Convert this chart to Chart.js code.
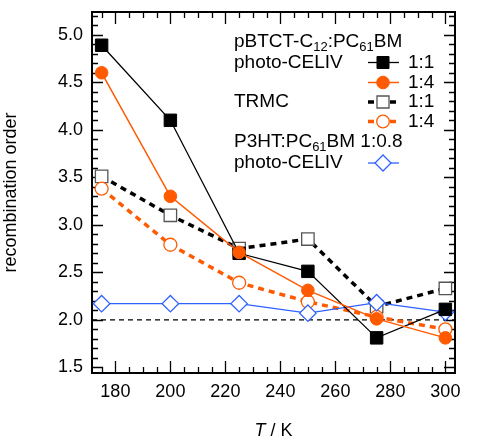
<!DOCTYPE html>
<html>
<head>
<meta charset="utf-8">
<script src="https://cdn.jsdelivr.net/npm/chart.js@4.4.0/dist/chart.umd.min.js"></script>
<style>
  body { margin: 0; background: #fff; }
  #wrap { width: 498px; height: 442px; }
</style>
</head>
<body>
<div id="wrap"><canvas id="chart" width="498" height="442"></canvas></div>
<script>
// temperatures (K) and recombination orders
const temps = [175, 200, 225, 250, 275, 300];
const celiv11 = [4.89, 4.10, 2.70, 2.51, 1.81, 2.11];
const celiv14 = [4.60, 3.30, 2.71, 2.31, 2.01, 1.81];
const trmc11 = [3.51, 3.10, 2.75, 2.85, 2.14, 2.33];
const trmc14 = [3.38, 2.79, 2.39, 2.19, 2.03, 1.90];
const p3ht = [2.17, 2.17, 2.17, 2.07, 2.18, 2.08];
const refLevel = 2.0;
const xTicks = [180, 200, 220, 240, 260, 280, 300];
const yTicks = [1.5, 2.0, 2.5, 3.0, 3.5, 4.0, 4.5, 5.0];

const X_MIN = 171.5, X_MAX = 303.5, Y_MIN = 1.44, Y_MAX = 5.24;
const ORANGE = '#ff5a00';
const BLUE = '#2f62ff';
const FONT = '"Liberation Sans", Arial, Helvetica, sans-serif';

const toXY = ys => temps.map((t, i) => ({ x: t, y: ys[i] }));

// small marker helper for the hand drawn legend
function marker(ctx, style, x, y, r, fill, stroke, lw) {
  ctx.save();
  ctx.lineWidth = lw;
  ctx.fillStyle = fill;
  ctx.strokeStyle = stroke;
  ctx.setLineDash([]);
  ctx.beginPath();
  if (style === 'rect') {
    const s = r * Math.SQRT1_2;
    ctx.rect(x - s, y - s, 2 * s, 2 * s);
  } else if (style === 'circle') {
    ctx.arc(x, y, r, 0, Math.PI * 2);
  } else {
    ctx.moveTo(x, y - r); ctx.lineTo(x + r, y); ctx.lineTo(x, y + r); ctx.lineTo(x - r, y); ctx.closePath();
  }
  ctx.fill();
  ctx.stroke();
  ctx.restore();
}

const framePlugin = {
  id: 'frame',
  beforeDatasetsDraw(chart) {
    const { ctx, chartArea: a, scales } = chart;
    const xs = scales.x, ys = scales.y;
    ctx.save();
    ctx.strokeStyle = '#000';
    ctx.lineWidth = 1.3;
    ctx.beginPath();
    for (let v = 175; v <= 300; v += 5) {
      const px = Math.round(xs.getPixelForValue(v)) + 0.5;
      const len = v % 20 === 0 ? 12 : 6;
      ctx.moveTo(px, a.bottom); ctx.lineTo(px, a.bottom - len);
      ctx.moveTo(px, a.top); ctx.lineTo(px, a.top + len);
    }
    for (let k = 15; k <= 52; k++) {
      const py = Math.round(ys.getPixelForValue(k / 10)) + 0.5;
      const len = k % 5 === 0 ? 11 : 6;
      ctx.moveTo(a.left, py); ctx.lineTo(a.left + len, py);
      ctx.moveTo(a.right, py); ctx.lineTo(a.right - len, py);
    }
    ctx.stroke();
    ctx.lineWidth = 2;
    ctx.strokeRect(a.left, a.top, a.right - a.left, a.bottom - a.top);
    ctx.restore();
  },
  afterDraw(chart) {
    const { ctx, chartArea: a } = chart;
    ctx.save();
    ctx.fillStyle = '#000';
    ctx.textBaseline = 'alphabetic';

    // axis titles
    ctx.font = 'italic 18px ' + FONT;
    const wT = ctx.measureText('T').width;
    ctx.font = '18px ' + FONT;
    const wRest = ctx.measureText(' / K').width;
    const cx = (a.left + a.right) / 2;
    let x0 = cx - (wT + wRest) / 2;
    ctx.font = 'italic 18px ' + FONT;
    ctx.fillText('T', x0, 436);
    ctx.font = '18px ' + FONT;
    ctx.fillText(' / K', x0 + wT, 436);

    ctx.save();
    ctx.translate(16, (a.top + a.bottom) / 2);
    ctx.rotate(-Math.PI / 2);
    ctx.textAlign = 'center';
    ctx.fillText('recombination order', 0, 0);
    ctx.restore();

    // legend text with subscripts
    const tx = 234;
    const big = '19px ' + FONT, small = '13px ' + FONT;
    const parts = (segs, y) => {
      let x = tx;
      segs.forEach(([s, sub]) => {
        ctx.font = sub ? small : big;
        ctx.fillText(s, x, sub ? y + 4 : y);
        x += ctx.measureText(s).width;
      });
    };
    parts([['pBTCT-C'], ['12', 1], [':PC'], ['61', 1], ['BM']], 47);
    ctx.font = big;
    ctx.fillText('photo-CELIV', tx, 68);
    ctx.fillText('TRMC', tx, 107);
    parts([['P3HT:PC'], ['61', 1], ['BM 1:0.8']], 147);
    ctx.font = big;
    ctx.fillText('photo-CELIV', tx, 168);
    ctx.fillText('1:1', 408, 68);
    ctx.fillText('1:4', 408, 88);
    ctx.fillText('1:1', 408, 107);
    ctx.fillText('1:4', 408, 127);

    // legend samples
    const sample = (y, color, lw, dash, style, r, fill, stroke, mlw) => {
      ctx.save();
      ctx.strokeStyle = color;
      ctx.lineWidth = lw;
      ctx.setLineDash(dash);
      ctx.beginPath();
      ctx.moveTo(368, y); ctx.lineTo(399, y);
      ctx.stroke();
      ctx.restore();
      marker(ctx, style, 383, y, r, fill, stroke, mlw);
    };
    sample(62.5, '#000', 1.3, [], 'rect', 8.5, '#000', '#000', 1);
    sample(82.5, ORANGE, 1.5, [], 'circle', 6.3, ORANGE, ORANGE, 1);
    sample(102, '#000', 3.5, [6, 5], 'rect', 8.5, '#fff', '#555', 1.3);
    sample(121.5, ORANGE, 3.5, [6, 5], 'circle', 6.3, '#fff', ORANGE, 1.3);
    sample(163, BLUE, 1.3, [], 'rectRot', 8, '#fff', BLUE, 1.3);
    ctx.restore();
  }
};

const datasets = [
  {
    label: 'photo-CELIV 1:4', data: toXY(celiv14), order: 0,
    borderColor: ORANGE, borderWidth: 1.5, backgroundColor: ORANGE,
    pointStyle: 'circle', pointRadius: 6.3, pointBackgroundColor: ORANGE, pointBorderColor: ORANGE, pointBorderWidth: 1
  },
  {
    label: 'photo-CELIV 1:1', data: toXY(celiv11), order: 1,
    borderColor: '#000', borderWidth: 1.3, backgroundColor: '#000',
    pointStyle: 'rect', pointRadius: 8.8, pointBackgroundColor: '#000', pointBorderColor: '#000', pointBorderWidth: 1
  },
  {
    label: 'P3HT:PCBM photo-CELIV', data: toXY(p3ht), order: 2,
    borderColor: BLUE, borderWidth: 1.3, backgroundColor: '#fff',
    pointStyle: 'rectRot', pointRadius: 8.2, pointBackgroundColor: '#fff', pointBorderColor: BLUE, pointBorderWidth: 1.3
  },
  {
    label: 'TRMC 1:4', data: toXY(trmc14), order: 3,
    borderColor: ORANGE, borderWidth: 3.5, borderDash: [6, 5], backgroundColor: '#fff',
    pointStyle: 'circle', pointRadius: 6.5, pointBackgroundColor: '#fff', pointBorderColor: ORANGE, pointBorderWidth: 1.3
  },
  {
    label: 'TRMC 1:1', data: toXY(trmc11), order: 4,
    borderColor: '#000', borderWidth: 3.5, borderDash: [6, 5], backgroundColor: '#fff',
    pointStyle: 'rect', pointRadius: 8.8, pointBackgroundColor: '#fff', pointBorderColor: '#555', pointBorderWidth: 1.3
  },
  {
    label: 'n = 2', data: [{ x: X_MIN, y: refLevel }, { x: X_MAX, y: refLevel }], order: 5,
    borderColor: '#000', borderWidth: 1.2, borderDash: [5, 4], pointRadius: 0
  }
];

new Chart(document.getElementById('chart'), {
  type: 'line',
  data: { datasets },
  options: {
    responsive: false,
    animation: false,
    layout: { padding: { top: 12, right: 43, left: 0, bottom: 0 } },
    datasets: { line: { clip: false, tension: 0 } },
    plugins: { legend: { display: false }, tooltip: { enabled: false } },
    scales: {
      x: {
        type: 'linear', min: X_MIN, max: X_MAX,
        grid: { display: false, drawTicks: false }, border: { display: false },
        afterBuildTicks: s => { s.ticks = xTicks.map(v => ({ value: v })); },
        afterFit: s => { s.height = 69; s.paddingLeft = 0; s.paddingRight = 0; },
        ticks: { color: '#000', font: { family: FONT, size: 18 }, padding: 8, maxRotation: 0 }
      },
      y: {
        type: 'linear', min: Y_MIN, max: Y_MAX,
        grid: { display: false, drawTicks: false }, border: { display: false },
        afterBuildTicks: s => { s.ticks = yTicks.map(v => ({ value: v })); },
        afterFit: s => { s.width = 92; s.paddingTop = 0; s.paddingBottom = 0; },
        ticks: { color: '#000', font: { family: FONT, size: 18 }, padding: 9, callback: v => v.toFixed(1) }
      }
    }
  },
  plugins: [framePlugin]
});
</script>
</body>
</html>
